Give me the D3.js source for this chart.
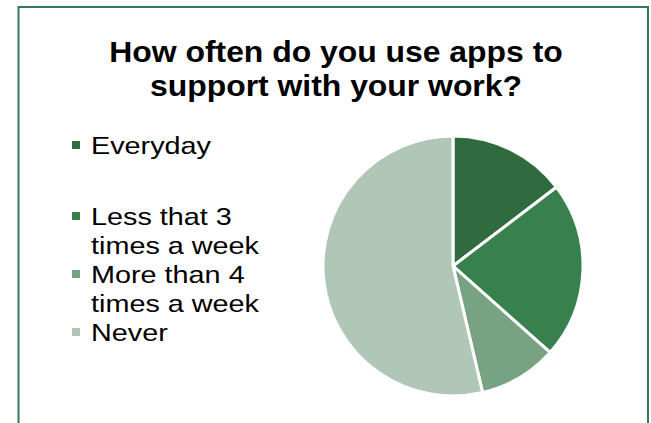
<!DOCTYPE html>
<html><head><meta charset="utf-8">
<script src="https://cdn.jsdelivr.net/npm/d3@7"></script>
<style>body{margin:0;background:#fff}svg{display:block}</style>
</head><body>
<svg id="c" width="651" height="423"></svg>
<script>
const titleLines = ["How often do you use apps to", "support with your work?"];
const categories = ["Everyday", "Less that 3 times a week", "More than 4 times a week", "Never"];
const legendLines = [["Everyday"], ["Less that 3", "times a week"], ["More than 4", "times a week"], ["Never"]];
const values = [6, 9, 4, 22];
const colors = ["#2f6b3f", "#39804f", "#77a382", "#b0c6b6"];

const svg = d3.select("#c");
const font = "'Liberation Sans', Arial, sans-serif";

svg.append("rect").attr("x", 18.5).attr("y", 7).attr("width", 629.5).attr("height", 430)
  .attr("fill", "#fff").attr("stroke", "#2e7a5a").attr("stroke-width", 2);

const tcx = 336, tsx = 1.1;
const title = svg.append("text").attr("font-family", font)
  .attr("font-weight", "bold").attr("font-size", 29).attr("text-anchor", "middle").attr("fill", "#000")
  .attr("transform", `translate(${tcx},0) scale(${tsx},1)`);
titleLines.forEach((t, i) => title.append("tspan").attr("x", 0).attr("y", 62 + i * 34).text(t));

const color = d3.scaleOrdinal().domain(categories).range(colors);
const cx = 453, cy = 266, r = 130;
const pie = d3.pie().sort(null).value(d => d.v);
const arc = d3.arc().innerRadius(0).outerRadius(r);
const data = categories.map((c, i) => ({c, v: values[i]}));
svg.append("g").attr("transform", `translate(${cx},${cy})`)
  .selectAll("path").data(pie(data)).join("path")
  .attr("d", arc).attr("fill", d => color(d.data.c))
  .attr("stroke", "#fff").attr("stroke-width", 3).attr("stroke-linejoin", "miter");

const legendY = [154, 225, 283, 341];
const lh = 29;
const lx = 91, lsx = 1.2;
const lg = svg.append("g");
legendLines.forEach((lines, i) => {
  lg.append("rect").attr("x", 72).attr("y", legendY[i] - 13).attr("width", 8).attr("height", 8)
    .attr("fill", colors[i]);
  const t = lg.append("text").attr("font-family", font).attr("font-size", 24).attr("fill", "#000")
    .attr("transform", `translate(${lx},0) scale(${lsx},1)`);
  lines.forEach((s, j) => t.append("tspan").attr("x", 0).attr("y", legendY[i] + j * lh).text(s));
});
</script>
</body></html>
